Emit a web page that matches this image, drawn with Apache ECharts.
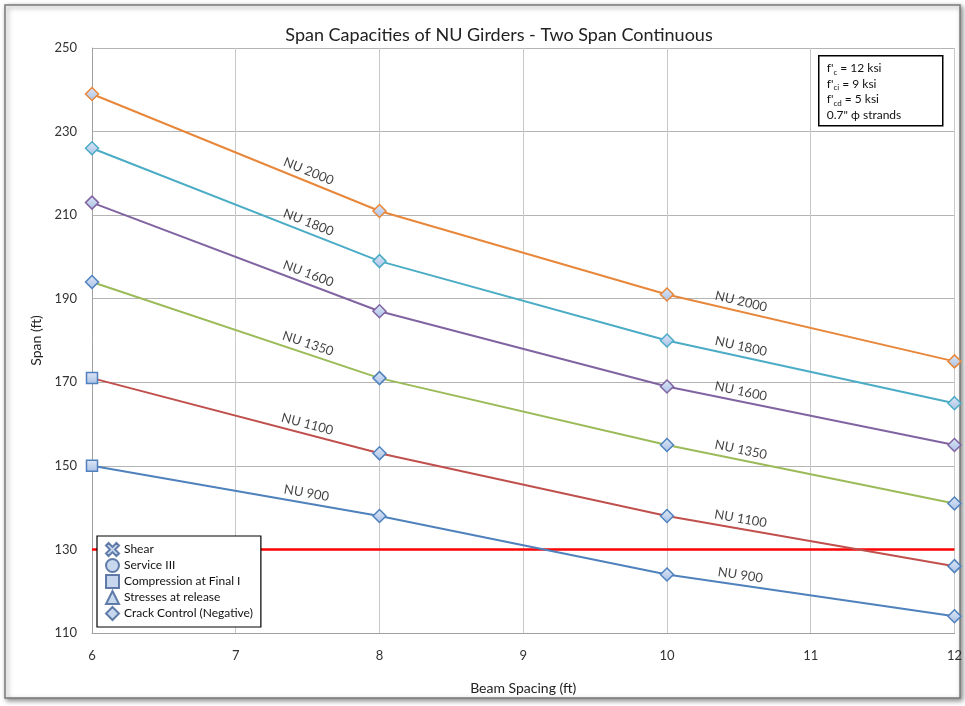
<!DOCTYPE html>
<html>
<head>
<meta charset="utf-8">
<script src="https://cdn.jsdelivr.net/npm/echarts@6/dist/echarts.min.js"></script>
<style>
  html, body { margin: 0; padding: 0; background: #fff; }
  #main { width: 965px; height: 706px; }
</style>
</head>
<body>
<div id="main"></div>
<script>
// 数据
var spacing = [6, 8, 10, 12];
var girders = ['NU 2000', 'NU 1800', 'NU 1600', 'NU 1350', 'NU 1100', 'NU 900'];
var nu2000 = [239, 211, 191, 175];
var nu1800 = [226, 199, 180, 165];
var nu1600 = [213, 187, 169, 155];
var nu1350 = [194, 171, 155, 141];
var nu1100 = [171, 153, 138, 126];
var nu900 = [150, 138, 124, 114];
var spans = [nu2000, nu1800, nu1600, nu1350, nu1100, nu900];
var limitSpan = 130;
var labelAt = [7.48, 10.5];
var yTicks = [110, 250, 20];
var xTicks = [6, 12, 1];
var legendNames = ['Shear', 'Service III', 'Compression at Final I', 'Stresses at release', 'Crack Control (Negative)'];

var lineColors = ['#E8873A', '#4BACC6', '#8064A2', '#9BBB59', '#C0504D', '#4F81BD'];
var markBorders = ['#E8873A', '#4BACC6', '#8064A2', '#4F81BD', '#4F81BD', '#4F81BD'];
var startSymbol = ['diamond', 'diamond', 'diamond', 'diamond', 'rect', 'rect'];
var font = 'Lato, "Liberation Sans", sans-serif';

var markFill = new echarts.graphic.LinearGradient(0, 0, 0, 1, [
  { offset: 0, color: '#dfe8f6' },
  { offset: 1, color: '#a8c0e6' }
]);

var chart = echarts.init(document.getElementById('main'));

function lineAt(vals, x) {
  for (var i = 0; i < spacing.length - 1; i++) {
    if (x >= spacing[i] && x <= spacing[i + 1]) {
      var t = (x - spacing[i]) / (spacing[i + 1] - spacing[i]);
      return { seg: i, y: vals[i] + t * (vals[i + 1] - vals[i]) };
    }
  }
  return { seg: 0, y: vals[0] };
}

var series = [];

// 红色限制线
series.push({
  name: 'limit',
  type: 'line',
  data: [[xTicks[0], limitSpan], [xTicks[1], limitSpan]],
  symbol: 'none',
  lineStyle: { color: '#FF0000', width: 2.5 },
  z: 1,
  silent: true
});

girders.forEach(function (g, k) {
  series.push({
    name: g,
    type: 'line',
    z: 3,
    data: spans[k].map(function (v, i) {
      var sym = i === 0 ? startSymbol[k] : 'diamond';
      return {
        value: [spacing[i], v],
        symbol: sym,
        symbolSize: sym === 'rect' ? 11 : 13
      };
    }),
    lineStyle: { color: lineColors[k], width: 2 },
    itemStyle: { color: markFill, borderColor: markBorders[k], borderWidth: 1.5 },
    emphasis: { disabled: true }
  });
});

// 图例用的空系列
var legendIcons = [
  'path://M2,0 L5,3 L8,0 L10,2 L7,5 L10,8 L8,10 L5,7 L2,10 L0,8 L3,5 L0,2 Z',
  'circle', 'rect', 'triangle', 'diamond'
];
legendNames.forEach(function (n, i) {
  series.push({
    name: n,
    type: 'scatter',
    data: [],
    symbol: legendIcons[i],
    itemStyle: { color: '#b9cdea', borderColor: '#3f5f95', borderWidth: 1.5 }
  });
});

function labelData(withAngle) {
  var out = [];
  girders.forEach(function (g, k) {
    labelAt.forEach(function (x) {
      var r = lineAt(spans[k], x);
      var angle = 0;
      if (withAngle) {
        var p0 = chart.convertToPixel({ gridIndex: 0 }, [spacing[r.seg], spans[k][r.seg]]);
        var p1 = chart.convertToPixel({ gridIndex: 0 }, [spacing[r.seg + 1], spans[k][r.seg + 1]]);
        angle = -Math.atan2(p1[1] - p0[1], p1[0] - p0[0]) * 180 / Math.PI;
      }
      out.push({ value: [x, r.y], name: g, label: { rotate: angle } });
    });
  });
  return out;
}

series.push({
  name: 'labels',
  type: 'scatter',
  symbolSize: 0,
  silent: true,
  z: 4,
  data: labelData(false),
  label: {
    show: true,
    position: 'inside',
    formatter: '{b}',
    offset: [0, -10],
    fontFamily: font,
    fontSize: 13,
    color: '#111'
  }
});

var option = {
  backgroundColor: '#fff',
  animation: false,
  textStyle: { fontFamily: font },
  title: {
    text: 'Span Capacities of NU Girders - Two Span Continuous',
    left: 494,
    top: 21,
    textAlign: 'center',
    textStyle: { fontFamily: font, fontSize: 18, fontWeight: 'normal', color: '#222' }
  },
  grid: { left: 92, right: 10, top: 48, bottom: 73 },
  xAxis: {
    type: 'value',
    min: xTicks[0], max: xTicks[1], interval: xTicks[2],
    name: 'Beam Spacing (ft)',
    nameLocation: 'middle',
    nameGap: 48,
    nameTextStyle: { fontFamily: font, fontSize: 14, color: '#222' },
    axisLine: { lineStyle: { color: '#a0a0a0' } },
    axisTick: { show: false },
    axisLabel: { margin: 16, fontSize: 13, color: '#333', fontFamily: font },
    splitLine: { lineStyle: { color: '#c8c8c8' } }
  },
  yAxis: {
    type: 'value',
    min: yTicks[0], max: yTicks[1], interval: yTicks[2],
    name: 'Span (ft)',
    nameLocation: 'middle',
    nameGap: 48,
    nameTextStyle: { fontFamily: font, fontSize: 14, color: '#222' },
    axisLine: { show: true, lineStyle: { color: '#a0a0a0' } },
    axisTick: { show: false },
    axisLabel: { margin: 15, fontSize: 13, color: '#333', fontFamily: font },
    splitLine: { lineStyle: { color: '#b4b4b4' } }
  },
  legend: {
    data: legendNames,
    orient: 'vertical',
    left: 97,
    top: 536,
    padding: [6, 8, 6, 8],
    itemGap: 1,
    itemWidth: 13,
    itemHeight: 13,
    backgroundColor: '#fff',
    borderColor: '#000',
    borderWidth: 1.2,
    selectedMode: false,
    z: 10,
    textStyle: { fontFamily: font, fontSize: 12, color: '#111' }
  },
  graphic: [
    {
      type: 'rect',
      z: -10,
      shape: { x: 5, y: 5, width: 955, height: 693 },
      style: {
        fill: '#fff', stroke: '#7a7a7a', lineWidth: 1.5,
        shadowBlur: 5, shadowColor: 'rgba(0,0,0,0.45)', shadowOffsetX: 2, shadowOffsetY: 2
      },
      silent: true
    },
    {
      type: 'group',
      left: 818,
      top: 55,
      z: 10,
      children: [
        {
          type: 'rect',
          shape: { x: 0, y: 0, width: 124, height: 70 },
          style: { fill: '#fff', stroke: '#000', lineWidth: 1.5 }
        },
        {
          type: 'text',
          x: 8, y: 5,
          style: {
            text: "{a|f'}{s|c}{a| = 12 ksi}\n{a|f'}{s|ci}{a| = 9 ksi}\n{a|f'}{s|cd}{a| = 5 ksi}\n{a|0.7\" ϕ strands}",
            fontFamily: font,
            fontSize: 12,
            lineHeight: 15.5,
            fill: '#111',
            rich: {
              a: { fontFamily: font, fontSize: 12, lineHeight: 15.5, fill: '#111' },
              s: { fontFamily: font, fontSize: 8, lineHeight: 15.5, fill: '#111', verticalAlign: 'bottom', padding: [5, 0, 0, 0] }
            }
          }
        }
      ]
    }
  ],
  series: series
};

chart.setOption(option);
chart.setOption({ series: [{ name: 'labels', data: labelData(true) }] });
</script>
</body>
</html>
